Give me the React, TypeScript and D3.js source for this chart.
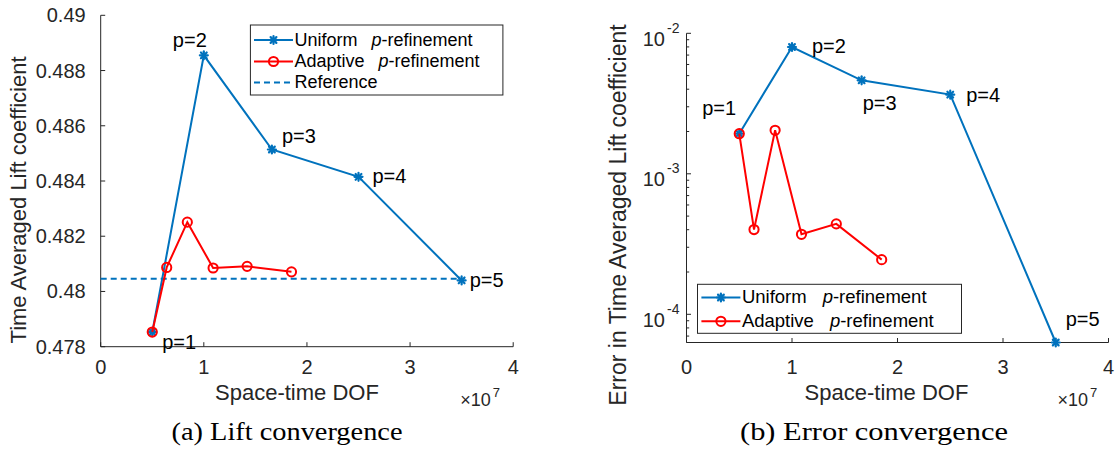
import React from "react";
import * as d3 from "d3";

// ---------- data ----------
const uniformDOF = [0.5e7, 1.0e7, 1.66e7, 2.5e7, 3.5e7];
const uniformLift = [0.47853, 0.48855, 0.48514, 0.48415, 0.4804];
const adaptiveDOF = [0.5e7, 0.64e7, 0.84e7, 1.09e7, 1.42e7, 1.85e7];
const adaptiveLift = [0.47853, 0.48087, 0.48251, 0.48085, 0.48091, 0.48071];
const referenceLift = 0.48046;
const referenceDOF = [0, 3.5e7];
const uniformError = [1.93e-3, 7.99e-3, 4.63e-3, 3.66e-3, 6.3e-5];
const adaptiveError = [1.93e-3, 4.01e-4, 2.04e-3, 3.71e-4, 4.4e-4, 2.45e-4];
const pLabels = ["p=1", "p=2", "p=3", "p=4", "p=5"];

const xTicks = [0, 1e7, 2e7, 3e7, 4e7];
const xTickLabels = ["0", "1", "2", "3", "4"];
const leftYTicks = [0.478, 0.48, 0.482, 0.484, 0.486, 0.488, 0.49];
const leftYTickLabels = ["0.478", "0.48", "0.482", "0.484", "0.486", "0.488", "0.49"];
const rightYTicks = [1e-4, 1e-3, 1e-2];
const rightYTickExps = ["-4", "-3", "-2"];

// ---------- layout (positions / styles) ----------
const BLUE = "#0072BD";
const RED = "#FF0000";
const AX = "#262626";
const FONT = "'Liberation Sans', Arial, Helvetica, sans-serif";

const leftLabelOffsets = [
  { dx: 10, dy: 11.5, anchor: "start" },
  { dx: -14, dy: -13, anchor: "middle" },
  { dx: 10, dy: -12, anchor: "start" },
  { dx: 14, dy: 1.5, anchor: "start" },
  { dx: 8, dy: 1.5, anchor: "start" },
];
const rightLabelOffsets = [
  { dx: -37, dy: -24, anchor: "start" },
  { dx: 20, dy: 1.5, anchor: "start" },
  { dx: 1, dy: 25, anchor: "start" },
  { dx: 16, dy: 2, anchor: "start" },
  { dx: 10, dy: -22, anchor: "start" },
];

function Star({ x, y }: { x: number; y: number }) {
  const r = 4;
  const d = r * 0.72;
  return (
    <g stroke={BLUE} strokeWidth={2.2} strokeLinecap="round">
      <line x1={x - r} y1={y} x2={x + r} y2={y} />
      <line x1={x} y1={y - r} x2={x} y2={y + r} />
      <line x1={x - d} y1={y - d} x2={x + d} y2={y + d} />
      <line x1={x - d} y1={y + d} x2={x + d} y2={y - d} />
    </g>
  );
}

function Circ({ x, y }: { x: number; y: number }) {
  return <circle cx={x} cy={y} r={4.6} fill="none" stroke={RED} strokeWidth={2} />;
}

function LegendRow({
  x, y, kind, name, gap, size,
}: { x: number; y: number; kind: string; name: string; gap: number; size: number }) {
  const x1 = x, x2 = x + 39;
  const mx = (x1 + x2) / 2;
  return (
    <g>
      {kind === "ref" ? (
        <line x1={x1} y1={y} x2={x2} y2={y} stroke={BLUE} strokeWidth={2} strokeDasharray="6,4" />
      ) : (
        <line x1={x1} y1={y} x2={x2} y2={y} stroke={kind === "uni" ? BLUE : RED} strokeWidth={2} />
      )}
      {kind === "uni" && <Star x={mx} y={y} />}
      {kind === "ada" && <Circ x={mx} y={y} />}
      <text x={x2 + 1.5} y={y + 5.8} fontSize={size} fontFamily={FONT} fill="#000">
        {name}
        {kind !== "ref" && (
          <>
            <tspan dx={gap} fontStyle="italic">p</tspan>
            <tspan>-refinement</tspan>
          </>
        )}
      </text>
    </g>
  );
}

export default function App() {
  // ---------- left panel ----------
  const lx = d3.scaleLinear().domain([0, 4e7]).range([100.7, 513.2]);
  const ly = d3.scaleLinear().domain([0.478, 0.49]).range([346.7, 15.3]);
  const lLine = d3.line<number>().x((_, i) => lx(uniformDOF[i])).y((v) => ly(v));
  const laLine = d3.line<number>().x((_, i) => lx(adaptiveDOF[i])).y((v) => ly(v));

  // ---------- right panel ----------
  const rx = d3.scaleLinear().domain([0, 4e7]).range([686.5, 1108.5]);
  const ry = d3.scaleLog().domain([6.3e-5, 1e-2]).range([342.5, 33.3]);
  const rLine = d3.line<number>().x((_, i) => rx(uniformDOF[i])).y((v) => ry(v));
  const raLine = d3.line<number>().x((_, i) => rx(adaptiveDOF[i])).y((v) => ry(v));
  const minorTicks = ry.ticks().filter((t) => {
    const e = Math.log10(t);
    return Math.abs(e - Math.round(e)) > 1e-6;
  });

  const tl = 4.5;

  const lB = ly.range()[0], lT = ly.range()[1], lL = lx.range()[0], lR = lx.range()[1];
  const rB = ry.range()[0], rT = ry.range()[1], rL = rx.range()[0], rR = rx.range()[1];

  return (
    <svg
      width={1117}
      height={452}
      viewBox="0 0 1117 452"
      style={{ position: "absolute", left: 0, top: 0, background: "#fff" }}
    >
      <rect x={0} y={0} width={1117} height={452} fill="#fff" />

      {/* ===== LEFT ===== */}
      <g>
        <line x1={lL} y1={lB} x2={lR} y2={lB} stroke={AX} strokeWidth={1} />
        <line x1={lL} y1={lB} x2={lL} y2={lT} stroke={AX} strokeWidth={1} />
        {xTicks.map((t, i) => (
          <g key={"lxt" + i}>
            <line x1={lx(t)} x2={lx(t)} y1={lB} y2={lB - tl} stroke={AX} />
            <text x={lx(t)} y={374} textAnchor="middle" fontSize={20} fontFamily={FONT} fill={AX}>
              {xTickLabels[i]}
            </text>
          </g>
        ))}
        {leftYTicks.map((t, i) => (
          <g key={"lyt" + i}>
            <line x1={lL} x2={lL + tl} y1={ly(t)} y2={ly(t)} stroke={AX} />
            <text x={lL - 15} y={ly(t) + 7} textAnchor="end" fontSize={20} fontFamily={FONT} fill={AX}>
              {leftYTickLabels[i]}
            </text>
          </g>
        ))}
        <text
          transform={`translate(26,200) rotate(-90)`}
          textAnchor="middle"
          fontSize={22}
          fontFamily={FONT}
          fill={AX}
        >
          Time Averaged Lift coefficient
        </text>
        <text x={(lL + lR) / 2 - 10} y={400} textAnchor="middle" fontSize={22} fontFamily={FONT} fill={AX}>
          Space-time DOF
        </text>
        <text x={lR - 53} y={405.5} fontSize={18} fontFamily={FONT} fill={AX}>
          ×10
          <tspan dx={2} dy={-9} fontSize={13}>7</tspan>
        </text>

        <line
          x1={lx(referenceDOF[0])}
          x2={lx(referenceDOF[1])}
          y1={ly(referenceLift)}
          y2={ly(referenceLift)}
          stroke={BLUE}
          strokeWidth={2}
          strokeDasharray="6,4"
        />
        <path d={lLine(uniformLift) || ""} fill="none" stroke={BLUE} strokeWidth={2} />
        {uniformLift.map((v, i) => (
          <Star key={"ls" + i} x={lx(uniformDOF[i])} y={ly(v)} />
        ))}
        <path d={laLine(adaptiveLift) || ""} fill="none" stroke={RED} strokeWidth={2} />
        {adaptiveLift.map((v, i) => (
          <Circ key={"lc" + i} x={lx(adaptiveDOF[i])} y={ly(v)} />
        ))}
        {pLabels.map((s, i) => (
          <text
            key={"lp" + i}
            x={lx(uniformDOF[i]) + leftLabelOffsets[i].dx}
            y={ly(uniformLift[i]) + leftLabelOffsets[i].dy + 5}
            textAnchor={leftLabelOffsets[i].anchor as any}
            fontSize={20}
            fontFamily={FONT}
            fill="#000"
          >
            {s}
          </text>
        ))}
        <rect x={250.4} y={25} width={252.5} height={70} fill="#fff" stroke={AX} strokeWidth={1} />
        <LegendRow x={254} y={40} kind="uni" name="Uniform" gap={14} size={18} />
        <LegendRow x={254} y={61.5} kind="ada" name="Adaptive" gap={14} size={18} />
        <LegendRow x={254} y={82.5} kind="ref" name="Reference" gap={0} size={18} />
      </g>

      {/* ===== RIGHT ===== */}
      <g>
        <line x1={rL} y1={rB} x2={rR} y2={rB} stroke={AX} strokeWidth={1} />
        <line x1={rL} y1={rB} x2={rL} y2={rT} stroke={AX} strokeWidth={1} />
        {xTicks.map((t, i) => (
          <g key={"rxt" + i}>
            <line x1={rx(t)} x2={rx(t)} y1={rB} y2={rB - tl} stroke={AX} />
            <text x={rx(t)} y={374} textAnchor="middle" fontSize={20} fontFamily={FONT} fill={AX}>
              {xTickLabels[i]}
            </text>
          </g>
        ))}
        {minorTicks.map((t, i) => (
          <line key={"rmt" + i} x1={rL} x2={rL + 2.7} y1={ry(t)} y2={ry(t)} stroke={AX} />
        ))}
        {rightYTicks.map((t, i) => (
          <g key={"ryt" + i}>
            <line x1={rL} x2={rL + tl} y1={ry(t)} y2={ry(t)} stroke={AX} />
            <text x={rL - 21.5} y={ry(t) + 12.5} textAnchor="end" fontSize={20} fontFamily={FONT} fill={AX}>
              10
            </text>
            <text x={rL - 19.5} y={ry(t) - 0.5} textAnchor="start" fontSize={14} fontFamily={FONT} fill={AX}>
              {rightYTickExps[i]}
            </text>
          </g>
        ))}
        <text
          transform={`translate(626,215) rotate(-90)`}
          textAnchor="middle"
          fontSize={23}
          fontFamily={FONT}
          fill={AX}
        >
          Error in Time Averaged Lift coefficient
        </text>
        <text x={(rL + rR) / 2 - 11} y={400} textAnchor="middle" fontSize={22} fontFamily={FONT} fill={AX}>
          Space-time DOF
        </text>
        <text x={rR - 51} y={405.5} fontSize={18} fontFamily={FONT} fill={AX}>
          ×10
          <tspan dx={2} dy={-9} fontSize={13}>7</tspan>
        </text>

        <path d={rLine(uniformError) || ""} fill="none" stroke={BLUE} strokeWidth={2} />
        {uniformError.map((v, i) => (
          <Star key={"rs" + i} x={rx(uniformDOF[i])} y={ry(v)} />
        ))}
        <path d={raLine(adaptiveError) || ""} fill="none" stroke={RED} strokeWidth={2} />
        {adaptiveError.map((v, i) => (
          <Circ key={"rc" + i} x={rx(adaptiveDOF[i])} y={ry(v)} />
        ))}
        {pLabels.map((s, i) => (
          <text
            key={"rp" + i}
            x={rx(uniformDOF[i]) + rightLabelOffsets[i].dx}
            y={ry(uniformError[i]) + rightLabelOffsets[i].dy + 5}
            textAnchor={rightLabelOffsets[i].anchor as any}
            fontSize={20}
            fontFamily={FONT}
            fill="#000"
          >
            {s}
          </text>
        ))}
        <rect x={697.5} y={284.3} width={264} height={49} fill="#fff" stroke={AX} strokeWidth={1} />
        <LegendRow x={701.4} y={297.5} kind="uni" name="Uniform" gap={16} size={18.5} />
        <LegendRow x={701.4} y={321.3} kind="ada" name="Adaptive" gap={16} size={18.5} />
      </g>

      {/* captions */}
      <text
        x={171.5}
        y={440}
        fontSize={26}
        fontFamily="'Liberation Serif', 'Times New Roman', serif"
        fill="#000"
        textLength={231}
        lengthAdjust="spacingAndGlyphs"
      >
        (a) Lift convergence
      </text>
      <text
        x={740}
        y={440}
        fontSize={26}
        fontFamily="'Liberation Serif', 'Times New Roman', serif"
        fill="#000"
        textLength={268}
        lengthAdjust="spacingAndGlyphs"
      >
        (b) Error convergence
      </text>
    </svg>
  );
}
